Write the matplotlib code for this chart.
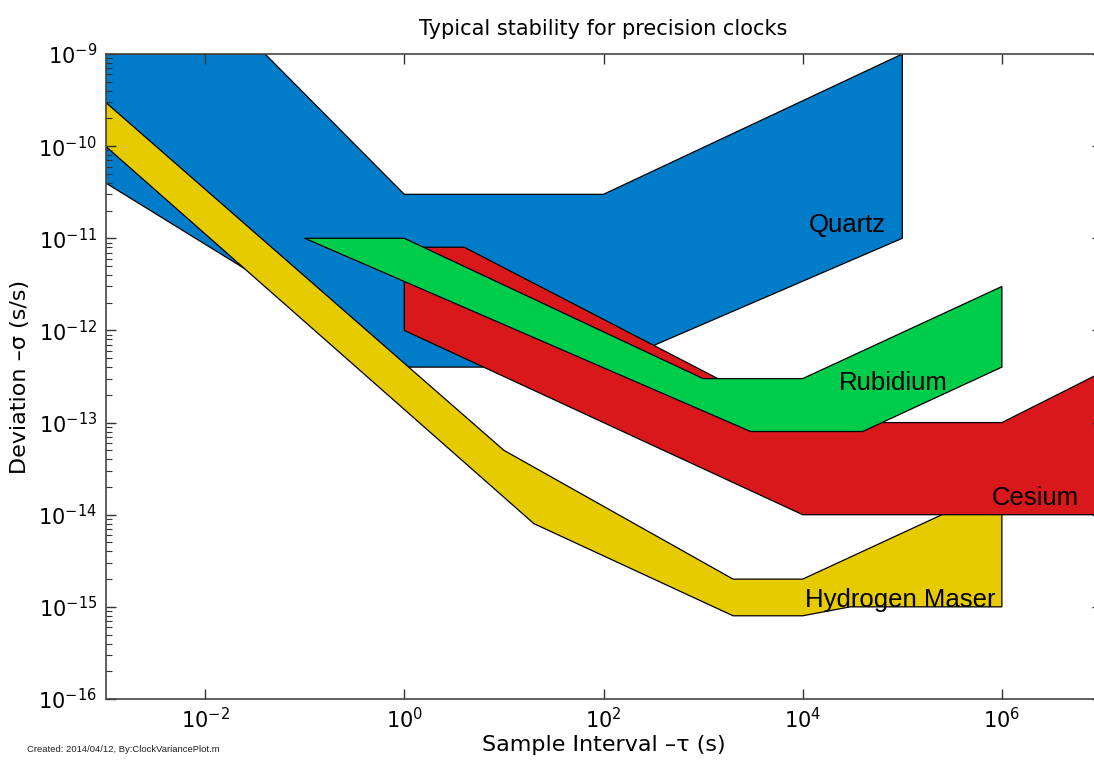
import numpy as np
import matplotlib
matplotlib.use("Agg")
from matplotlib import pyplot as plt
from matplotlib.ticker import LogLocator, NullLocator, NullFormatter

# stability regions (tau in s, sigma in s/s), traced round each outline
quartz_tau = [1e-3, 0.04, 1, 100, 1e5, 1e5, 100, 1, 1e-3]
quartz_sigma = [1e-9, 1e-9, 3e-11, 3e-11, 1e-9, 1e-11, 4e-13, 4e-13, 4e-11]

maser_tau = [1e-3, 10, 2000, 1e4, 1e6, 1e6, 3e4, 1e4, 2000, 20, 1e-3]
maser_sigma = [3e-10, 5e-14, 2e-15, 2e-15, 2e-14, 1e-15, 1e-15, 8e-16, 8e-16, 8e-15, 1e-10]

cesium_tau = [1, 1, 4, 1e4, 1e6, 1e7, 1e7, 1e4]
cesium_sigma = [1e-12, 8e-12, 8e-12, 1e-13, 1e-13, 3.5e-13, 1e-14, 1e-14]

rubidium_tau = [0.1, 1, 1000, 1e4, 1e6, 1e6, 4e4, 3000]
rubidium_sigma = [1e-11, 1e-11, 3e-13, 3e-13, 3e-12, 4e-13, 8e-14, 8e-14]

x_ticks = [1e-2, 1e0, 1e2, 1e4, 1e6]
y_ticks = [1e-16, 1e-15, 1e-14, 1e-13, 1e-12, 1e-11, 1e-10, 1e-9]

fig = plt.figure(figsize=(10.94, 7.66), dpi=100)
ax = fig.add_axes([105.5 / 1094, 67 / 766, 996 / 1094, 645 / 766])
ax.set_xscale('log')
ax.set_yscale('log')

regioes = [
    (quartz_tau, quartz_sigma, '#007cc8'),
    (maser_tau, maser_sigma, '#e6cb00'),
    (cesium_tau, cesium_sigma, '#d9181c'),
    (rubidium_tau, rubidium_sigma, '#00cc4c'),
]
for tau, sigma, cor in regioes:
    ax.fill(tau, sigma, facecolor=cor, edgecolor='black', linewidth=0.9)

rotulo = dict(fontsize=18.5, family='Liberation Sans', va='center', ha='left')
ax.text(1.15e4, 1.4e-11, 'Quartz', **rotulo)
ax.text(2.3e4, 2.7e-13, 'Rubidium', **rotulo)
ax.text(8e5, 1.5e-14, 'Cesium', **rotulo)
ax.text(1.05e4, 1.2e-15, 'Hydrogen Maser', **rotulo)

ax.set_xlim(1e-3, 1e7)
ax.set_ylim(1e-16, 1e-9)
ax.set_xticks(x_ticks)
ax.set_yticks(y_ticks)
ax.xaxis.set_minor_locator(NullLocator())
ax.yaxis.set_minor_locator(LogLocator(base=10, subs=np.arange(2, 10), numticks=20))
ax.yaxis.set_minor_formatter(NullFormatter())

ax.tick_params(which='both', direction='in', top=True, right=True,
               labelsize=15, color='#333333', pad=6)
ax.tick_params(which='major', length=7, width=1)
ax.tick_params(which='minor', length=4, width=0.8)
for s in ax.spines.values():
    s.set_color('#444444')
    s.set_linewidth(1.2)

ax.set_title('Typical stability for precision clocks', fontsize=15, pad=14)
ax.set_xlabel('Sample Interval \u2013\u03c4 (s)', fontsize=16, labelpad=2)
ax.set_ylabel('Deviation \u2013\u03c3 (s/s)', fontsize=16, labelpad=6)

fig.text(27 / 1094, 1 - 750 / 766, 'Created: 2014/04/12, By:ClockVariancePlot.m',
         fontsize=6.8, family='Liberation Sans', va='center', color='#222222')

fig.savefig('out.png', dpi=100)
